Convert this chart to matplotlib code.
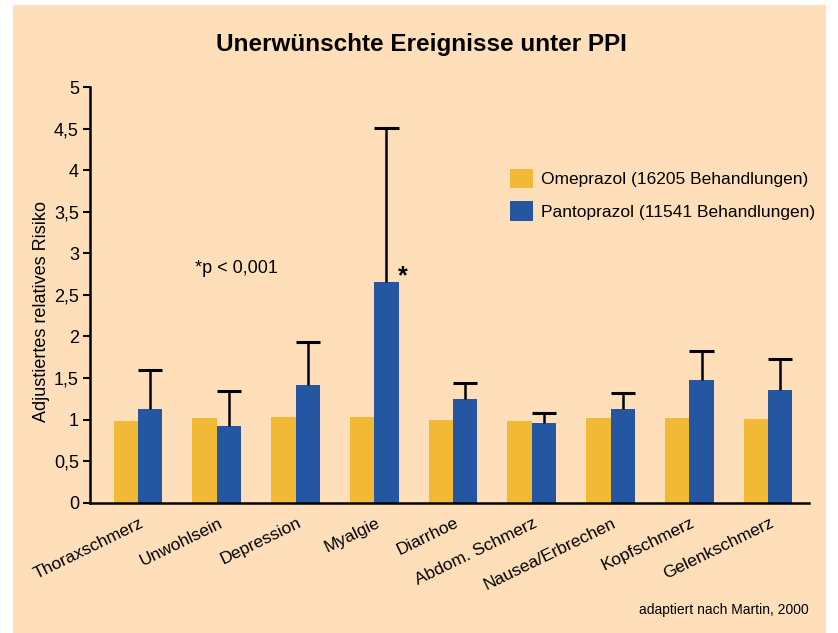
import matplotlib
matplotlib.use("Agg")
import matplotlib.pyplot as plt
import matplotlib.transforms as mtransforms
import numpy as np
from matplotlib.patches import Rectangle

# Data
categories = ["Thoraxschmerz", "Unwohlsein", "Depression", "Myalgie", "Diarrhoe",
              "Abdom. Schmerz", "Nausea/Erbrechen", "Kopfschmerz", "Gelenkschmerz"]
omeprazol = [0.98, 1.02, 1.03, 1.03, 1.00, 0.98, 1.02, 1.02, 1.01]
pantoprazol = [1.13, 0.92, 1.42, 2.66, 1.25, 0.96, 1.13, 1.48, 1.36]
panto_upper = [1.60, 1.34, 1.93, 4.51, 1.44, 1.08, 1.32, 1.83, 1.73]
yticks = [0, 0.5, 1, 1.5, 2, 2.5, 3, 3.5, 4, 4.5, 5]
yticklabels = ["0", "0,5", "1", "1,5", "2", "2,5", "3", "3,5", "4", "4,5", "5"]

plt.rcParams['font.family'] = ['Liberation Sans', 'DejaVu Sans']

BG = "#FEDFBA"
ORANGE = "#F2B937"
BLUE = "#2556A2"

fig = plt.figure(figsize=(8.38, 6.33), dpi=100, facecolor="white")
fig.patches.append(Rectangle((13 / 838, 0), (826 - 13) / 838, (633 - 5) / 633,
                             transform=fig.transFigure, facecolor=BG, edgecolor="none", zorder=-10))

ax = fig.add_axes([90 / 838, 130.3 / 633, (809 - 90) / 838, (502.7 - 87) / 633])
ax.set_facecolor("none")
ax.set_zorder(1)

x = np.arange(len(categories))
w = 0.31
ax.bar(x - w / 2, omeprazol, w, color=ORANGE, label="Omeprazol (16205 Behandlungen)", zorder=2)
ax.bar(x + w / 2, pantoprazol, w, color=BLUE, label="Pantoprazol (11541 Behandlungen)", zorder=2)
# upper error bars only
ax.vlines(x + w / 2, pantoprazol, panto_upper, color="black", linewidth=1.8, zorder=3)
ax.hlines(panto_upper, x, x + w, color="black", linewidth=2.2, zorder=3)

ax.set_xlim(-0.61, 8.52)
ax.set_ylim(0, 5)
ax.set_yticks(yticks)
ax.set_yticklabels(yticklabels, fontsize=13)
ax.tick_params(axis="y", length=5, width=1.5, pad=3)
ax.set_xticks(x)
ax.set_xticklabels(categories, rotation=26, ha="right", rotation_mode="anchor", fontsize=12.5)
ax.tick_params(axis="x", length=0, pad=9)
ax.spines["top"].set_visible(False)
ax.spines["right"].set_visible(False)
ax.spines["left"].set_linewidth(1.8)
ax.spines["bottom"].set_linewidth(1.8)
ax.set_ylabel("Adjustiertes relatives Risiko", fontsize=13)
ax.yaxis.set_label_coords(-0.056, 0.461)

# shift tick labels so they end near the group center
offset = mtransforms.ScaledTranslation(1 / 72, 0, fig.dpi_scale_trans)
for lbl in ax.get_xticklabels():
    lbl.set_transform(lbl.get_transform() + offset)

fig.text(421 / 838, 1 - 45 / 633, "Unerwünschte Ereignisse unter PPI",
         ha="center", va="center", fontsize=17.5, fontweight="bold")
ax.text(1.245, 2.82, "*p < 0,001", fontsize=13, ha="center", va="center")
ax.text(3 + w + 0.05, 2.72, "*", fontsize=18, ha="center", va="center", fontweight="bold")

ax.legend(loc="upper left", bbox_to_anchor=(0.584, 0.803), frameon=False, fontsize=12.5,
          borderpad=0, borderaxespad=0,
          handlelength=1.35, handleheight=1.35, handletextpad=0.45, labelspacing=0.75)

fig.text(809 / 838, 1 - 610 / 633, "adaptiert nach Martin, 2000", ha="right", va="center", fontsize=10)

fig.savefig("out.png", dpi=100, facecolor="white")
